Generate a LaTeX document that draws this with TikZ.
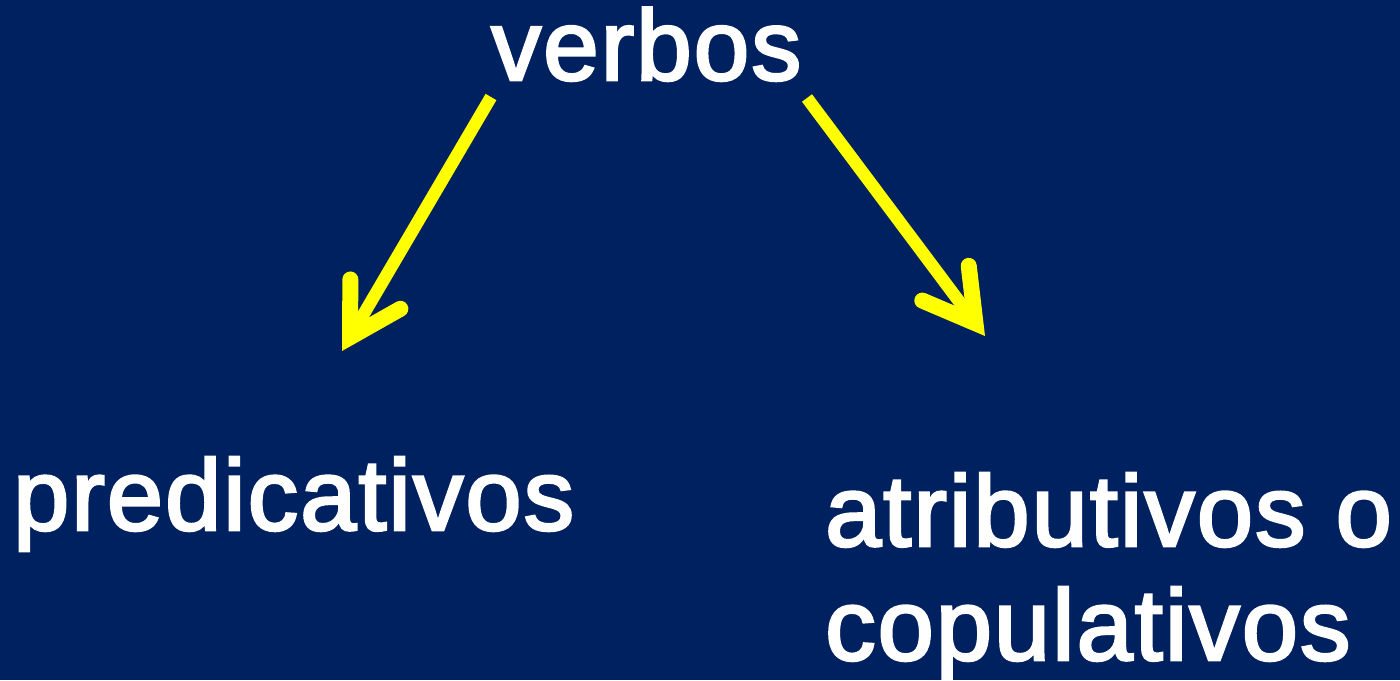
\documentclass[tikz,border=0pt]{standalone}
\usepackage{fontspec}
\setmainfont{Liberation Sans}
\newfontfamily\heavyfont{Liberation Sans}[FakeBold=2.6, LetterSpace=2]
\usetikzlibrary{arrows.meta}
\definecolor{bgblue}{RGB}{0,33,96}
\definecolor{arrowyellow}{RGB}{255,255,0}
\tikzset{
  bigword/.style={text=white, inner sep=0pt, anchor=base west, font=\heavyfont\fontsize{101}{114}\selectfont},
  topword/.style={text=white, inner sep=0pt, anchor=base west, font=\heavyfont\fontsize{100}{120}\selectfont},
  yarrow/.style={draw=arrowyellow, line width=12.5pt, line cap=butt,
    -{Straight Barb[length=50pt, width=58pt, line width=16pt, line cap=round, line join=miter]}}
}
\begin{document}
\begin{tikzpicture}[x=1pt, y=-1pt]
  \fill[bgblue] (0,0) rectangle (1400,680);
  \useasboundingbox (0,0) rectangle (1400,680);
  \node[topword] (verbos) at (491,80) {verbos};
  \node[bigword] (pred) at (13,530) {predicativos};
  \node[bigword, align=left] (atr) at (825,660) {atributivos o\\copulativos};
  \coordinate (l1) at (491,97);
  \coordinate (l2) at (342,351);
  \coordinate (r1) at (807,98);
  \coordinate (r2) at (985,336);
  \draw[yarrow] (l1) -- (l2);
  \draw[yarrow] (r1) -- (r2);
\end{tikzpicture}
\end{document}
